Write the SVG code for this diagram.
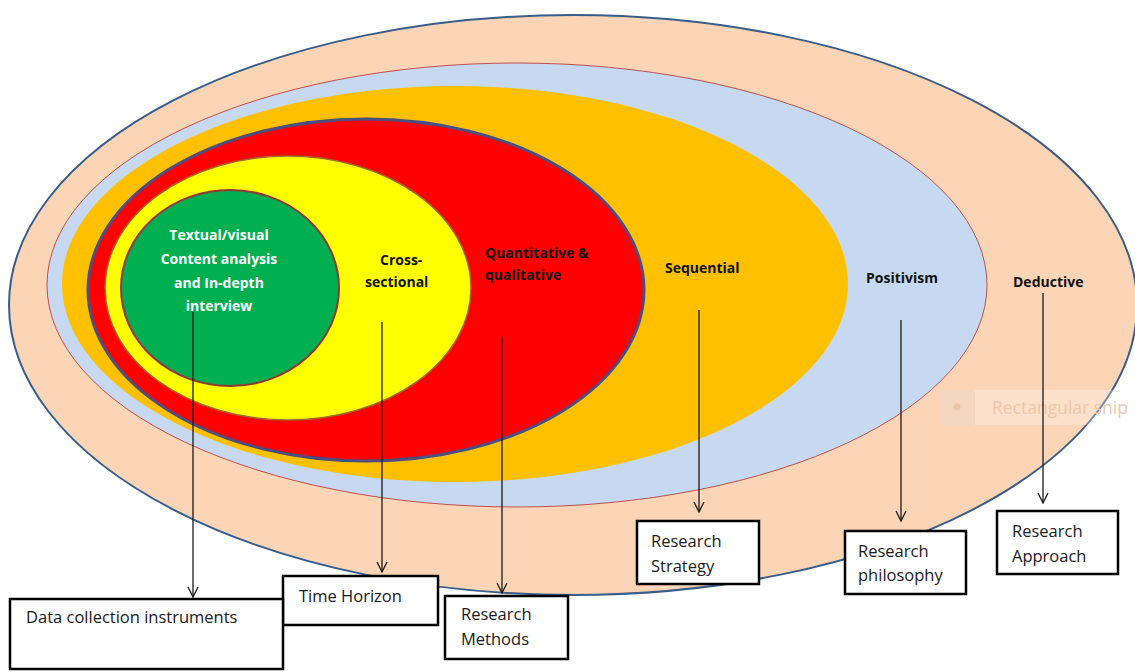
<svg xmlns="http://www.w3.org/2000/svg" width="1135" height="672" viewBox="0 0 1135 672">
  <style>
    .lbl { font-family: "Open Sans", "Liberation Sans", sans-serif; font-weight: 700; font-size: 14px; fill: #111; }
    .lbl-w { fill: #ffffff; }
    .box { fill: #ffffff; stroke: #000000; stroke-width: 2.5; }
    .box-txt { font-family: "Open Sans", "Liberation Sans", sans-serif; font-size: 16.5px; fill: #1a1a1a; }
    .conn { stroke: #1a1a1a; stroke-width: 1.3; fill: none; marker-end: url(#vhead); }
  </style>
  <defs>
    <marker id="vhead" viewBox="0 0 12 12" refX="11" refY="6" markerWidth="12" markerHeight="12" markerUnits="userSpaceOnUse" orient="auto">
      <path d="M1,1 L11,6 L1,11" fill="none" stroke="#1a1a1a" stroke-width="1.3"/>
    </marker>
  </defs>

  <rect x="0" y="0" width="1135" height="672" fill="#ffffff"/>

  <!-- nested layers, outermost first -->
  <g id="layer-approach">
    <ellipse cx="573" cy="305" rx="564" ry="290" fill="#FBD5B5" stroke="#385D8A" stroke-width="2"/>
    <text class="lbl" x="1013" y="287" font-size="12.5">Deductive</text>
  </g>
  <g id="layer-philosophy">
    <ellipse cx="517" cy="285" rx="470" ry="222" fill="#C6D9F1" stroke="#C0504D" stroke-width="1"/>
    <text class="lbl" x="866" y="283">Positivism</text>
  </g>
  <g id="layer-strategy">
    <ellipse cx="455" cy="284" rx="393" ry="198" fill="#FFC000"/>
    <text class="lbl" x="665" y="273" font-size="14.5">Sequential</text>
  </g>
  <g id="layer-methods">
    <ellipse cx="366" cy="290" rx="278" ry="171" fill="#FF0000" stroke="#4A4E80" stroke-width="3"/>
    <text class="lbl" x="485" y="258">Quantitative &amp;</text>
    <text class="lbl" x="485" y="280">qualitative</text>
  </g>
  <g id="layer-time">
    <ellipse cx="288" cy="288" rx="183" ry="132" fill="#FFFF00" stroke="#A0662E" stroke-width="1.5"/>
    <text class="lbl" x="380" y="265">Cross-</text>
    <text class="lbl" x="365" y="287">sectional</text>
  </g>
  <g id="layer-instruments">
    <ellipse cx="230" cy="288" rx="109" ry="98" fill="#00B050" stroke="#943634" stroke-width="2"/>
    <text class="lbl lbl-w" x="219" y="240" text-anchor="middle">Textual/visual</text>
    <text class="lbl lbl-w" x="219" y="264" text-anchor="middle">Content analysis</text>
    <text class="lbl lbl-w" x="219" y="288" text-anchor="middle">and In-depth</text>
    <text class="lbl lbl-w" x="219" y="311" text-anchor="middle">interview</text>
  </g>

  <!-- faint floating tag on the right -->
  <g id="snip-tag">
    <rect x="940" y="390" width="195" height="35" fill="#ffffff" opacity="0.28"/>
    <rect x="940" y="390" width="35" height="35" fill="#E9C7AE" opacity="0.35"/>
    <circle cx="957" cy="407" r="3.5" fill="#EEC5A8"/>
    <text x="992" y="414" font-family="'Open Sans', 'Liberation Sans', sans-serif" font-size="17.5" fill="#EEC6A9">Rectangular snip</text>
  </g>

  <g id="connectors">
    <line class="conn" x1="193" y1="312" x2="193" y2="597"/>
    <line class="conn" x1="382" y1="322" x2="382" y2="572"/>
    <line class="conn" x1="502" y1="337" x2="502" y2="593"/>
    <line class="conn" x1="699" y1="310" x2="699" y2="512"/>
    <line class="conn" x1="901" y1="320" x2="901" y2="521"/>
    <line class="conn" x1="1043" y1="293" x2="1043" y2="503"/>
  </g>

  <g id="box-time-horizon">
    <rect class="box" x="283" y="576" width="155" height="49"/>
    <text class="box-txt" x="299" y="602">Time Horizon</text>
  </g>
  <g id="box-data-collection">
    <rect class="box" x="10" y="599" width="273" height="70"/>
    <text class="box-txt" x="26" y="623">Data collection instruments</text>
  </g>
  <g id="box-research-methods">
    <rect class="box" x="445" y="596" width="123" height="63"/>
    <text class="box-txt" x="461" y="620">Research</text>
    <text class="box-txt" x="461" y="645">Methods</text>
  </g>
  <g id="box-research-strategy">
    <rect class="box" x="637" y="521" width="122" height="63"/>
    <text class="box-txt" x="651" y="547">Research</text>
    <text class="box-txt" x="651" y="572">Strategy</text>
  </g>
  <g id="box-research-philosophy">
    <rect class="box" x="845" y="531" width="121" height="63"/>
    <text class="box-txt" x="858" y="557">Research</text>
    <text class="box-txt" x="858" y="581">philosophy</text>
  </g>
  <g id="box-research-approach">
    <rect class="box" x="997" y="511" width="121" height="63"/>
    <text class="box-txt" x="1012" y="537">Research</text>
    <text class="box-txt" x="1012" y="562">Approach</text>
  </g>
</svg>
